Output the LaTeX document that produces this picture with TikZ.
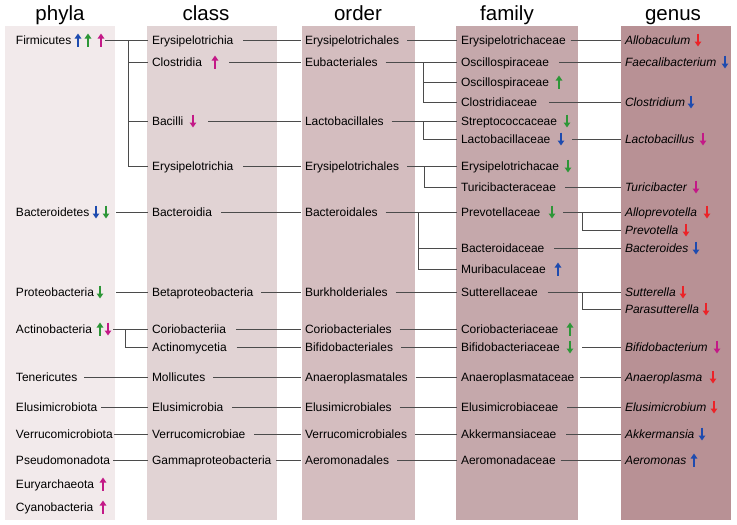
\documentclass[tikz,border=0pt]{standalone}
\usepackage{fontspec}
\setmainfont{Liberation Sans}
\usetikzlibrary{arrows.meta}
\definecolor{bgP}{RGB}{242,234,235}
\definecolor{bgC}{RGB}{225,211,212}
\definecolor{bgO}{RGB}{212,189,191}
\definecolor{bgF}{RGB}{197,168,171}
\definecolor{bgG}{RGB}{184,145,149}
\definecolor{aB}{RGB}{30,75,175}
\definecolor{aG}{RGB}{45,150,55}
\definecolor{aM}{RGB}{195,25,135}
\definecolor{aR}{RGB}{235,35,40}
\definecolor{ln}{RGB}{75,75,75}
\newcommand\myup[4]{\draw[arr,color=#1] (#2,{#3+6.5}) -- (#2,{#3-6.5}); \coordinate (#4) at (#2,#3);}
\newcommand\mydown[4]{\draw[arr,color=#1] (#2,{#3-6.5}) -- (#2,{#3+6.5}); \coordinate (#4) at (#2,#3);}
\begin{document}
\begin{tikzpicture}[x=1pt,y=-1pt,
  lbl/.style={anchor=west,inner xsep=4pt,inner ysep=0pt,outer sep=0pt,text height=11pt,text depth=2.3pt,font=\fontsize{12}{14}\selectfont},
  glbl/.style={lbl,font=\fontsize{12}{14}\selectfont\itshape},
  hdr/.style={anchor=base,inner sep=0pt,font=\fontsize{20.5}{24}\selectfont},
  con/.style={draw=ln,line width=1pt},
  arr/.style={line width=1.4pt,-{Triangle[length=5pt,width=6.5pt]}}]
\useasboundingbox (0,0) rectangle (737,525);
\fill[white] (0,0) rectangle (737,525);
% column backgrounds
\fill[bgP] (5,26) rectangle (115,520);
\fill[bgC] (147,26) rectangle (277,520);
\fill[bgO] (302,26) rectangle (415,520);
\fill[bgF] (456,26) rectangle (578,520);
\fill[bgG] (621,26) rectangle (731,520);
% headers
\node[hdr] (hP) at (60,20) {phyla};
\node[hdr] (hC) at (206,20) {class};
\node[hdr] (hO) at (358,20) {order};
\node[hdr] (hF) at (507,20) {family};
\node[hdr] (hG) at (673,20) {genus};
% phyla
\node[lbl] (p1) at (12,40) {Firmicutes};
\node[lbl] (p2) at (12,212) {Bacteroidetes};
\node[lbl] (p3) at (12,292) {Proteobacteria};
\node[lbl] (p4) at (12,329) {Actinobacteria};
\node[lbl] (p5) at (12,377) {Tenericutes};
\node[lbl] (p6) at (12,407) {Elusimicrobiota};
\node[lbl] (p7) at (12,434) {Verrucomicrobiota};
\node[lbl] (p8) at (12,460) {Pseudomonadota};
\node[lbl] (p9) at (12,484) {Euryarchaeota};
\node[lbl] (p10) at (12,507) {Cyanobacteria};
% class
\node[lbl] (c1) at (148,40) {Erysipelotrichia};
\node[lbl] (c2) at (148,62) {Clostridia};
\node[lbl] (c3) at (148,121) {Bacilli};
\node[lbl] (c4) at (148,166) {Erysipelotrichia};
\node[lbl] (c5) at (148,212) {Bacteroidia};
\node[lbl] (c6) at (148,292) {Betaproteobacteria};
\node[lbl] (c7) at (148,329) {Coriobacteriia};
\node[lbl] (c8) at (148,347) {Actinomycetia};
\node[lbl] (c9) at (148,377) {Mollicutes};
\node[lbl] (c10) at (148,407) {Elusimicrobia};
\node[lbl] (c11) at (148,434) {Verrucomicrobiae};
\node[lbl] (c12) at (148,460) {Gammaproteobacteria};
% order
\node[lbl] (o1) at (301,40) {Erysipelotrichales};
\node[lbl] (o2) at (301,62) {Eubacteriales};
\node[lbl] (o3) at (301,121) {Lactobacillales};
\node[lbl] (o4) at (301,166) {Erysipelotrichales};
\node[lbl] (o5) at (301,212) {Bacteroidales};
\node[lbl] (o6) at (301,292) {Burkholderiales};
\node[lbl] (o7) at (301,329) {Coriobacteriales};
\node[lbl] (o8) at (301,347) {Bifidobacteriales};
\node[lbl] (o9) at (301,377) {Anaeroplasmatales};
\node[lbl] (o10) at (301,407) {Elusimicrobiales};
\node[lbl] (o11) at (301,434) {Verrucomicrobiales};
\node[lbl] (o12) at (301,460) {Aeromonadales};
% family
\node[lbl] (f1) at (457,40) {Erysipelotrichaceae};
\node[lbl] (f2) at (457,62) {Oscillospiraceae};
\node[lbl] (f3) at (457,82) {Oscillospiraceae};
\node[lbl] (f4) at (457,102) {Clostridiaceae};
\node[lbl] (f5) at (457,121) {Streptococcaceae};
\node[lbl] (f6) at (457,139) {Lactobacillaceae};
\node[lbl] (f7) at (457,166) {Erysipelotrichacae};
\node[lbl] (f8) at (457,187) {Turicibacteraceae};
\node[lbl] (f9) at (457,212) {Prevotellaceae};
\node[lbl] (f10) at (457,248) {Bacteroidaceae};
\node[lbl] (f11) at (457,269) {Muribaculaceae};
\node[lbl] (f12) at (457,292) {Sutterellaceae};
\node[lbl] (f13) at (457,329) {Coriobacteriaceae};
\node[lbl] (f14) at (457,347) {Bifidobacteriaceae};
\node[lbl] (f15) at (457,377) {Anaeroplasmataceae};
\node[lbl] (f16) at (457,407) {Elusimicrobiaceae};
\node[lbl] (f17) at (457,434) {Akkermansiaceae};
\node[lbl] (f18) at (457,460) {Aeromonadaceae};
% genus
\node[glbl] (g1) at (621,40) {Allobaculum};
\node[glbl] (g2) at (621,62) {Faecalibacterium};
\node[glbl] (g3) at (621,102) {Clostridium};
\node[glbl] (g4) at (621,139) {Lactobacillus};
\node[glbl] (g5) at (621,187) {Turicibacter};
\node[glbl] (g6) at (621,212) {Alloprevotella};
\node[glbl] (g7) at (621,230) {Prevotella};
\node[glbl] (g8) at (621,248) {Bacteroides};
\node[glbl] (g9) at (621,292) {Sutterella};
\node[glbl] (g10) at (621,309) {Parasutterella};
\node[glbl] (g11) at (621,347) {Bifidobacterium};
\node[glbl] (g12) at (621,377) {Anaeroplasma};
\node[glbl] (g13) at (621,407) {Elusimicrobium};
\node[glbl] (g14) at (621,434) {Akkermansia};
\node[glbl] (g15) at (621,460) {Aeromonas};
% arrows
\myup{aB}{78}{40}{aP1a}
\myup{aG}{88}{40}{aP1b}
\myup{aM}{101}{40}{aP1c}
\mydown{aB}{96}{212}{aP2a}
\mydown{aG}{106}{212}{aP2b}
\mydown{aG}{100}{292}{aP3}
\myup{aG}{100}{329}{aP4a}
\mydown{aM}{108}{329}{aP4b}
\myup{aM}{103}{484}{aP9}
\myup{aM}{103}{507}{aP10}
\myup{aM}{215}{62}{aC2}
\mydown{aM}{193}{121}{aC3}
\myup{aG}{559}{82}{aF3}
\mydown{aG}{567}{121}{aF5}
\mydown{aB}{561}{139}{aF6}
\mydown{aG}{568}{166}{aF7}
\mydown{aG}{552}{212}{aF9}
\myup{aB}{558}{269}{aF11}
\myup{aG}{570}{329}{aF13}
\mydown{aG}{570}{347}{aF14}
\mydown{aR}{698}{40}{aG1}
\mydown{aB}{725}{62}{aG2}
\mydown{aB}{691}{102}{aG3}
\mydown{aM}{703}{139}{aG4}
\mydown{aM}{696}{187}{aG5}
\mydown{aR}{707}{212}{aG6}
\mydown{aR}{686}{230}{aG7}
\mydown{aB}{696}{248}{aG8}
\mydown{aR}{683}{292}{aG9}
\mydown{aR}{706}{309}{aG10}
\mydown{aM}{717}{347}{aG11}
\mydown{aR}{713}{377}{aG12}
\mydown{aR}{714}{407}{aG13}
\mydown{aB}{702}{434}{aG14}
\myup{aB}{694}{460}{aG15}
% junctions
\coordinate (j1) at (128,40);
\coordinate (j2) at (125,329);
\coordinate (j3) at (423,62);
\coordinate (j4) at (423,121);
\coordinate (j5) at (424,166);
\coordinate (j6) at (418,212);
\coordinate (j7) at (582,212);
\coordinate (j8) at (582,292);
% phyla -> class
\draw[con] ([xshift=4pt]aP1c) -- (c1.west);
\draw[con] (j1) |- (c2.west);
\draw[con] (j1) |- (c3.west);
\draw[con] (j1) |- (c4.west);
\draw[con] ([xshift=10pt]aP2b) -- (c5.west);
\draw[con] ([xshift=16pt]aP3) -- (c6.west);
\draw[con] ([xshift=5pt]aP4b) -- (c7.west);
\draw[con] (j2) |- (c8.west);
\draw[con] ([xshift=3pt]p5.east) -- (c9.west);
\draw[con] ([xshift=0pt]p6.east) -- (c10.west);
\draw[con] ([xshift=-3pt]p7.east) -- (c11.west);
\draw[con] ([xshift=-1pt]p8.east) -- (c12.west);
% class -> order
\draw[con] ([xshift=6pt]c1.east) -- (o1.west);
\draw[con] ([xshift=14pt]aC2) -- (o2.west);
\draw[con] ([xshift=15pt]aC3) -- (o3.west);
\draw[con] ([xshift=6pt]c4.east) -- (o4.west);
\draw[con] ([xshift=5pt]c5.east) -- (o5.west);
\draw[con] ([xshift=4pt]c6.east) -- (o6.west);
\draw[con] ([xshift=6pt]c7.east) -- (o7.west);
\draw[con] ([xshift=6pt]c8.east) -- (o8.west);
\draw[con] ([xshift=4pt]c9.east) -- (o9.west);
\draw[con] ([xshift=5pt]c10.east) -- (o10.west);
\draw[con] ([xshift=5pt]c11.east) -- (o11.west);
\draw[con] ([xshift=1pt]c12.east) -- (o12.west);
% order -> family
\draw[con] ([xshift=4pt]o1.east) -- (f1.west);
\draw[con] ([xshift=4pt]o2.east) -- (f2.west);
\draw[con] (j3) |- (f3.west);
\draw[con] (j3) |- (f4.west);
\draw[con] ([xshift=4pt]o3.east) -- (f5.west);
\draw[con] (j4) |- (f6.west);
\draw[con] ([xshift=4pt]o4.east) -- (f7.west);
\draw[con] (j5) |- (f8.west);
\draw[con] ([xshift=4pt]o5.east) -- (f9.west);
\draw[con] (j6) |- (f10.west);
\draw[con] (j6) |- (f11.west);
\draw[con] ([xshift=4pt]o6.east) -- (f12.west);
\draw[con] ([xshift=4pt]o7.east) -- (f13.west);
\draw[con] ([xshift=4pt]o8.east) -- (f14.west);
\draw[con] ([xshift=4pt]o9.east) -- (f15.west);
\draw[con] ([xshift=4pt]o10.east) -- (f16.west);
\draw[con] ([xshift=4pt]o11.east) -- (f17.west);
\draw[con] ([xshift=4pt]o12.east) -- (f18.west);
% family -> genus
\draw[con] ([xshift=1pt]f1.east) -- (g1.west);
\draw[con] ([xshift=6pt]f2.east) -- (g2.west);
\draw[con] ([xshift=8pt]f4.east) -- (g3.west);
\draw[con] ([xshift=11pt]aF6) -- (g4.west);
\draw[con] ([xshift=5pt]f8.east) -- (g5.west);
\draw[con] ([xshift=11pt]aF9) -- (g6.west);
\draw[con] (j7) |- (g7.west);
\draw[con] ([xshift=6pt]f10.east) -- (g8.west);
\draw[con] ([xshift=6pt]f12.east) -- (g9.west);
\draw[con] (j8) |- (g10.west);
\draw[con] ([xshift=12pt]aF14) -- (g11.west);
\draw[con] ([xshift=2pt]f15.east) -- (g12.west);
\draw[con] ([xshift=5pt]f16.east) -- (g13.west);
\draw[con] ([xshift=6pt]f17.east) -- (g14.west);
\draw[con] ([xshift=1pt]f18.east) -- (g15.west);
\end{tikzpicture}
\end{document}
